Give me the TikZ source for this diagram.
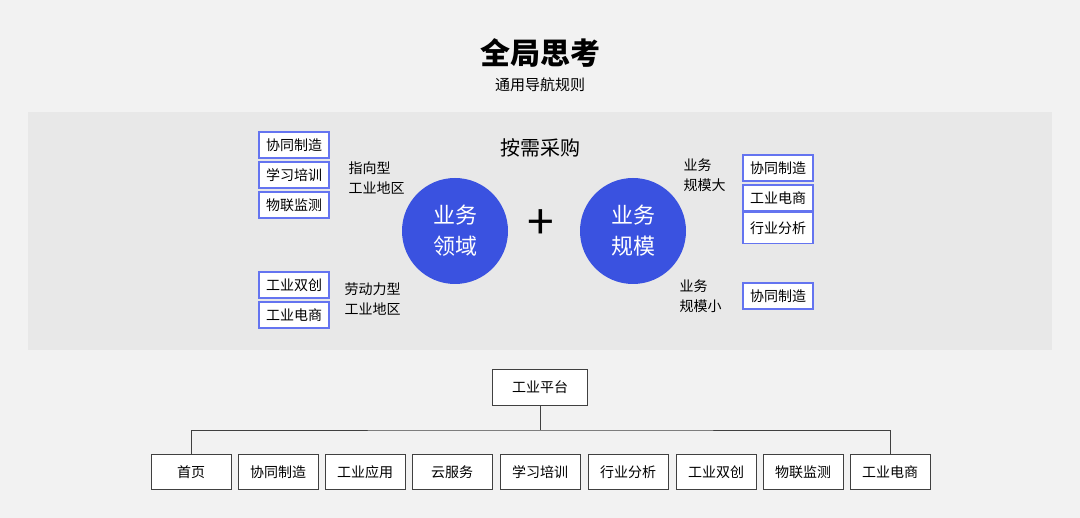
\documentclass[tikz,border=0pt]{standalone}
\usepackage{fontspec}
\setmainfont{Noto Sans CJK SC}
\begin{document}
\begin{tikzpicture}[x=1pt,y=-1pt,
  bbox/.style={draw=bblue,line width=1.2pt,fill=white,minimum width=70pt,minimum height=26pt,inner sep=0pt,font=\fontsize{14}{16}\selectfont},
  pbox/.style={draw=black!75,line width=0.8pt,fill=white,minimum width=80pt,minimum height=35pt,inner sep=0pt,font=\fontsize{14}{16}\selectfont},
  lbl/.style={align=left,font=\fontsize{14}{20}\selectfont,anchor=west},
  circ/.style={circle,fill=cblue,minimum size=106pt,inner sep=0pt,text=white,align=center,font=\fontsize{22}{31}\selectfont}]
\definecolor{cblue}{HTML}{3A52E0}
\definecolor{bblue}{HTML}{6474F0}
\fill[black!5] (0,0) rectangle (1080,518);
\useasboundingbox (0,0) rectangle (1080,518);
\fill[black!9] (28,112) rectangle (1052,350);
\node[font=\fontsize{30}{34}\selectfont\bfseries] (t) at (540,53) {全局思考};
\node[font=\fontsize{15}{18}\selectfont] (st) at (540,85) {通用导航规则};
\node[font=\fontsize{20}{24}\selectfont] (h) at (540,148) {按需采购};
\node[circ] (c1) at (455,231) {业务\\领域};
\node[circ] (c2) at (633,231) {业务\\规模};
\node[font=\fontsize{48}{48}\selectfont] (plus) at (541,225) {+};
\node[bbox] (l1) at (294,145) {协同制造};
\node[bbox] (l2) at (294,175) {学习培训};
\node[bbox] (l3) at (294,205) {物联监测};
\node[bbox] (l4) at (294,285) {工业双创};
\node[bbox] (l5) at (294,315) {工业电商};
\node[lbl] (a1) at (345,178) {指向型\\工业地区};
\node[lbl] (a2) at (341,299) {劳动力型\\工业地区};
\node[lbl] (a3) at (680,175) {业务\\规模大};
\node[lbl] (a4) at (676,296) {业务\\规模小};
\node[bbox] (r1) at (778,168) {协同制造};
\node[bbox] (r2) at (778,198) {工业电商};
\node[bbox,minimum height=31pt] (r3) at (778,228) {行业分析};
\node[bbox] (r4) at (778,296) {协同制造};
\node[pbox,minimum width=95pt,minimum height=36pt] (p) at (540,387) {工业平台};
\coordinate (j) at (540,430);
\foreach \n/\x/\t in {b1/191/首页,b2/278/协同制造,b3/365/工业应用,b4/452/云服务,b5/540/学习培训,b6/628/行业分析,b7/716/工业双创,b8/803/物联监测,b9/890/工业电商}
  \node[pbox] (\n) at (\x,472) {\t};
\draw[line width=0.8pt,black!75] (p.south) -- (j);
\draw[line width=0.8pt,black!75] (b1.north) |- (j) -| (b9.north);
\end{tikzpicture}
\end{document}
